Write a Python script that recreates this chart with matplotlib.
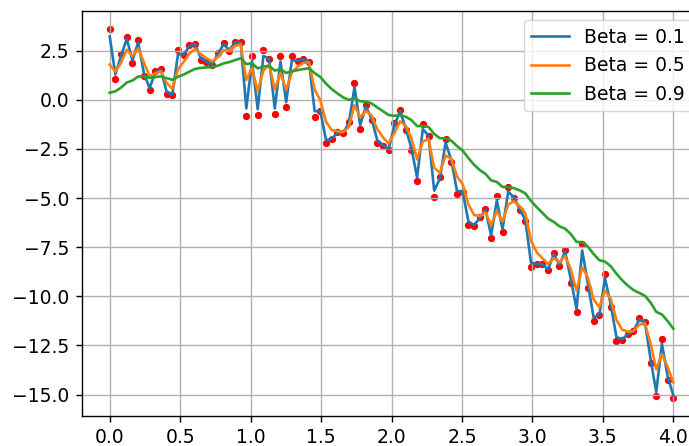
import numpy as np
import matplotlib
matplotlib.use("Agg")
import matplotlib.pyplot as plt

# noisy samples (100 points on [0, 4])
y_points = [
    3.58, 1.07, 2.35, 3.20, 1.88, 3.02, 1.20, 0.50, 1.48, 1.55,
    0.28, 0.25, 2.55, 2.30, 2.77, 2.84, 2.04, 1.92, 1.79, 2.38,
    2.88, 2.50, 2.95, 2.92, -0.81, 2.23, -0.75, 2.53, 2.08, -0.72,
    2.21, -0.35, 2.25, 1.98, 2.07, 1.93, -0.86, -0.58, -2.22, -1.97,
    -1.65, -1.68, -1.15, 0.85, -1.50, -0.24, -1.03, -2.18, -2.33, -2.53,
    -1.18, -0.50, -1.55, -2.58, -4.12, -1.22, -1.86, -4.93, -3.95, -1.97,
    -3.16, -4.81, -4.67, -6.35, -6.40, -5.98, -5.55, -7.04, -4.92, -6.74,
    -4.46, -5.00, -5.63, -6.16, -8.53, -8.36, -8.36, -8.65, -7.77, -8.45,
    -7.64, -9.30, -10.80, -7.34, -9.56, -11.26, -10.95, -8.87, -10.54, -12.25,
    -12.20, -11.90, -11.74, -11.12, -11.30, -13.39, -15.05, -12.15, -14.25, -15.15,
]
x_points = np.linspace(0, 4, len(y_points))
betas = [0.1, 0.5, 0.9]

def ewma(values, beta):
    out = []
    v = 0.0
    for val in values:
        v = beta * v + (1 - beta) * val
        out.append(v)
    return out

fig = plt.figure(figsize=(6.89, 4.46), dpi=100)
ax = fig.add_axes([81.5 / 689, (446 - 416) / 446, 620 / 689, 405 / 446])

ax.scatter(x_points, y_points, c='r', s=18)
for b in betas:
    ax.plot(x_points, ewma(y_points, b), lw=1.9, label="Beta = {}".format(b))

ax.legend(fontsize=13.5)
ax.grid(lw=1.0)
ax.tick_params(labelsize=13.5, length=4.4, width=1.0, pad=4.4)
for s in ax.spines.values():
    s.set_linewidth(1.0)

fig.savefig("out.png", dpi=100)
